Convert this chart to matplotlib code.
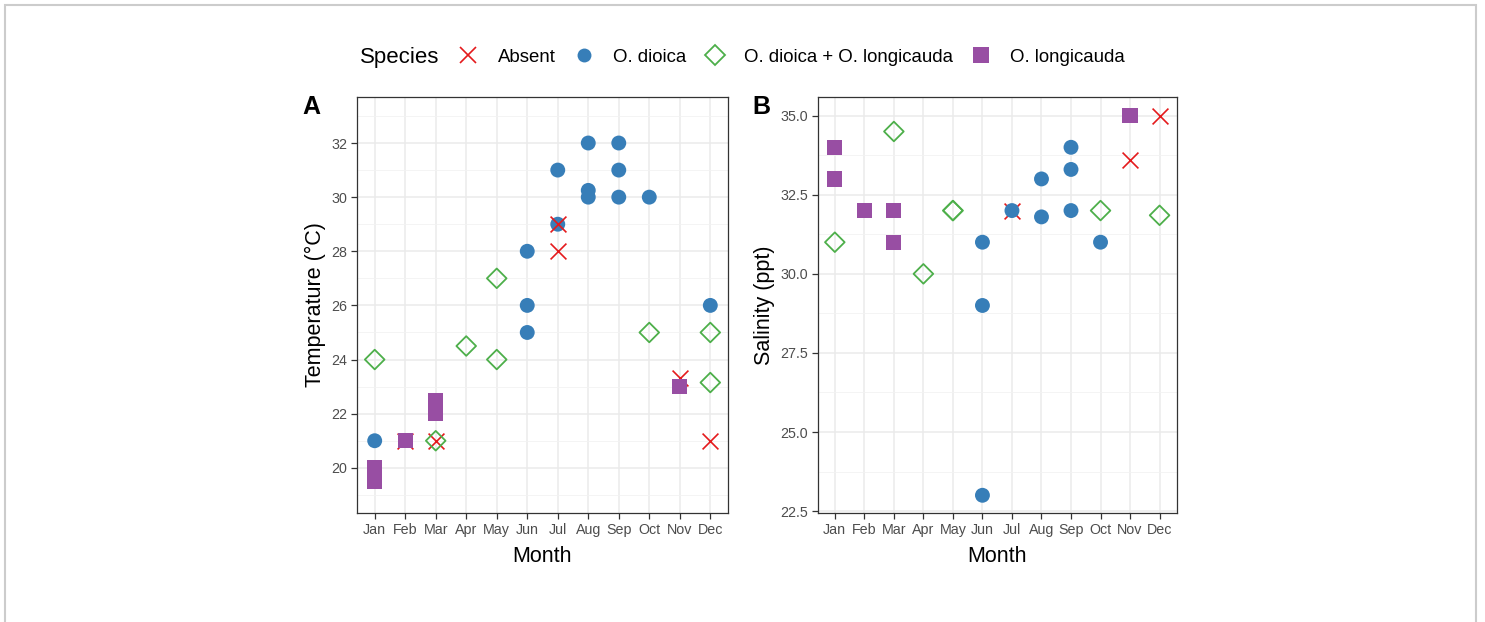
import matplotlib
matplotlib.use("Agg")
import matplotlib.pyplot as plt
from matplotlib.lines import Line2D
from matplotlib.patches import Rectangle
from matplotlib.ticker import MultipleLocator, FixedLocator, FormatStrFormatter

plt.rcParams['font.family'] = ['Liberation Sans', 'DejaVu Sans']

months = ["Jan", "Feb", "Mar", "Apr", "May", "Jun", "Jul", "Aug", "Sep", "Oct", "Nov", "Dec"]
species = ["Absent", "O. dioica", "O. dioica + O. longicauda", "O. longicauda"]

# Panel A: temperature (month index 1..12, value)
temp_absent_month = [2, 3, 7, 7, 11, 12]
temp_absent_val = [21.0, 21.0, 29.0, 28.0, 23.3, 21.0]
temp_dioica_month = [1, 6, 6, 6, 7, 7, 8, 8, 8, 9, 9, 9, 10, 12]
temp_dioica_val = [21.0, 28.0, 26.0, 25.0, 31.0, 29.0, 32.0, 30.25, 30.0, 32.0, 31.0, 30.0, 30.0, 26.0]
temp_both_month = [1, 3, 4, 5, 5, 10, 12, 12]
temp_both_val = [24.0, 21.0, 24.5, 27.0, 24.0, 25.0, 25.0, 23.15]
temp_long_month = [1, 1, 1, 2, 3, 3, 3, 11]
temp_long_val = [19.5, 19.7, 20.0, 21.0, 22.0, 22.2, 22.5, 23.0]

# Panel B: salinity
sal_absent_month = [7, 11, 12]
sal_absent_val = [32.0, 33.6, 35.0]
sal_dioica_month = [6, 6, 6, 7, 8, 8, 9, 9, 9, 10]
sal_dioica_val = [31.0, 29.0, 23.0, 32.0, 33.0, 31.8, 34.0, 33.3, 32.0, 31.0]
sal_both_month = [1, 3, 4, 5, 5, 10, 12]
sal_both_val = [31.0, 34.5, 30.0, 32.0, 32.0, 32.0, 31.85]
sal_long_month = [1, 1, 2, 3, 3, 11]
sal_long_val = [34.0, 33.0, 32.0, 32.0, 31.0, 35.0]

RED = "#E41A1C"
BLUE = "#377EB8"
GREEN = "#4DAF4A"
PURPLE = "#984EA3"

W, H = 1485, 622
fig = plt.figure(figsize=(W / 100, H / 100), dpi=100)

# outer light border
fig.patches.append(Rectangle((4.5 / W, -0.2), (1476 - 4.5) / W, 1.2 - 5 / H,
                             transform=fig.transFigure, fill=False,
                             edgecolor="#cccccc", linewidth=1.5))

axA = fig.add_axes([357 / W, 1 - 513 / H, (728 - 357) / W, (513 - 97) / H])
axB = fig.add_axes([817.7 / W, 1 - 513 / H, (1176.7 - 817.7) / W, (513 - 97) / H])


def draw(ax, data, zorders):
    styles = {
        "Absent": dict(marker="x", s=130, c=RED, linewidths=1.2),
        "O. dioica": dict(marker="o", s=115, c=BLUE, edgecolors="none"),
        "O. dioica + O. longicauda": dict(marker="D", s=100, facecolors="none",
                                          edgecolors=GREEN, linewidths=1.3),
        "O. longicauda": dict(marker="s", s=120, c=PURPLE, edgecolors="none"),
    }
    for sp, (mx, vals) in data.items():
        ax.scatter(mx, vals, zorder=zorders[sp], **styles[sp])


draw(axA, {
    "Absent": (temp_absent_month, temp_absent_val),
    "O. dioica": (temp_dioica_month, temp_dioica_val),
    "O. dioica + O. longicauda": (temp_both_month, temp_both_val),
    "O. longicauda": (temp_long_month, temp_long_val),
}, {"O. dioica": 3, "Absent": 4, "O. longicauda": 5, "O. dioica + O. longicauda": 6})

draw(axB, {
    "Absent": (sal_absent_month, sal_absent_val),
    "O. dioica": (sal_dioica_month, sal_dioica_val),
    "O. dioica + O. longicauda": (sal_both_month, sal_both_val),
    "O. longicauda": (sal_long_month, sal_long_val),
}, {"Absent": 3, "O. dioica": 4, "O. longicauda": 5, "O. dioica + O. longicauda": 6})

axA.set_ylim(18.33, 33.7)
axA.yaxis.set_major_locator(MultipleLocator(2))
axA.yaxis.set_minor_locator(FixedLocator([19, 21, 23, 25, 27, 29, 31, 33]))
axB.set_ylim(22.44, 35.59)
axB.yaxis.set_major_locator(FixedLocator([22.5, 25.0, 27.5, 30.0, 32.5, 35.0]))
axB.yaxis.set_minor_locator(FixedLocator([23.75, 26.25, 28.75, 31.25, 33.75]))
axB.yaxis.set_major_formatter(FormatStrFormatter("%.1f"))

for ax, ylab in ((axA, "Temperature (°C)"), (axB, "Salinity (ppt)")):
    ax.set_xlim(1 - 0.58, 12 + 0.58)
    ax.set_xticks(range(1, 13))
    ax.set_xticklabels(months)
    ax.grid(True, which="major", color="#ebebeb", linewidth=1.1, zorder=0)
    ax.grid(True, which="minor", axis="y", color="#f2f2f2", linewidth=0.6, zorder=0)
    ax.set_axisbelow(True)
    for sp in ax.spines.values():
        sp.set_color("#333333")
        sp.set_linewidth(0.9)
    ax.tick_params(axis="both", which="major", length=4, width=0.9, color="#333333",
                   labelcolor="#4d4d4d", labelsize=10.3, pad=3)
    ax.tick_params(axis="y", which="minor", length=0)
    ax.set_xlabel("Month", fontsize=15.5, labelpad=7)
    ax.set_ylabel(ylab, fontsize=15.5, labelpad=4)

fig.text(311 / W, 1 - 107 / H, "A", fontsize=18, fontweight="bold", ha="center", va="center")
fig.text(761 / W, 1 - 107 / H, "B", fontsize=18, fontweight="bold", ha="center", va="center")

# legend
handles = [
    Line2D([], [], linestyle="none", marker="x", markersize=12, color=RED, markeredgewidth=1.2),
    Line2D([], [], linestyle="none", marker="o", markersize=10, color=BLUE, markeredgewidth=0),
    Line2D([], [], linestyle="none", marker="D", markersize=10, markerfacecolor="none",
           markeredgecolor=GREEN, markeredgewidth=1.3),
    Line2D([], [], linestyle="none", marker="s", markersize=11.5, color=PURPLE, markeredgewidth=0),
]
fig.text(360 / W, 1 - 57 / H, "Species", fontsize=16, ha="left", va="center")
fig.legend(handles, species, loc="center left", bbox_to_anchor=(457.3 / W, 1 - 57 / H),
           ncol=4, frameon=False, fontsize=13.4, borderaxespad=0, borderpad=0,
           handlelength=1.2, handletextpad=0.97, columnspacing=0.92)

fig.savefig("out.png", dpi=100)
